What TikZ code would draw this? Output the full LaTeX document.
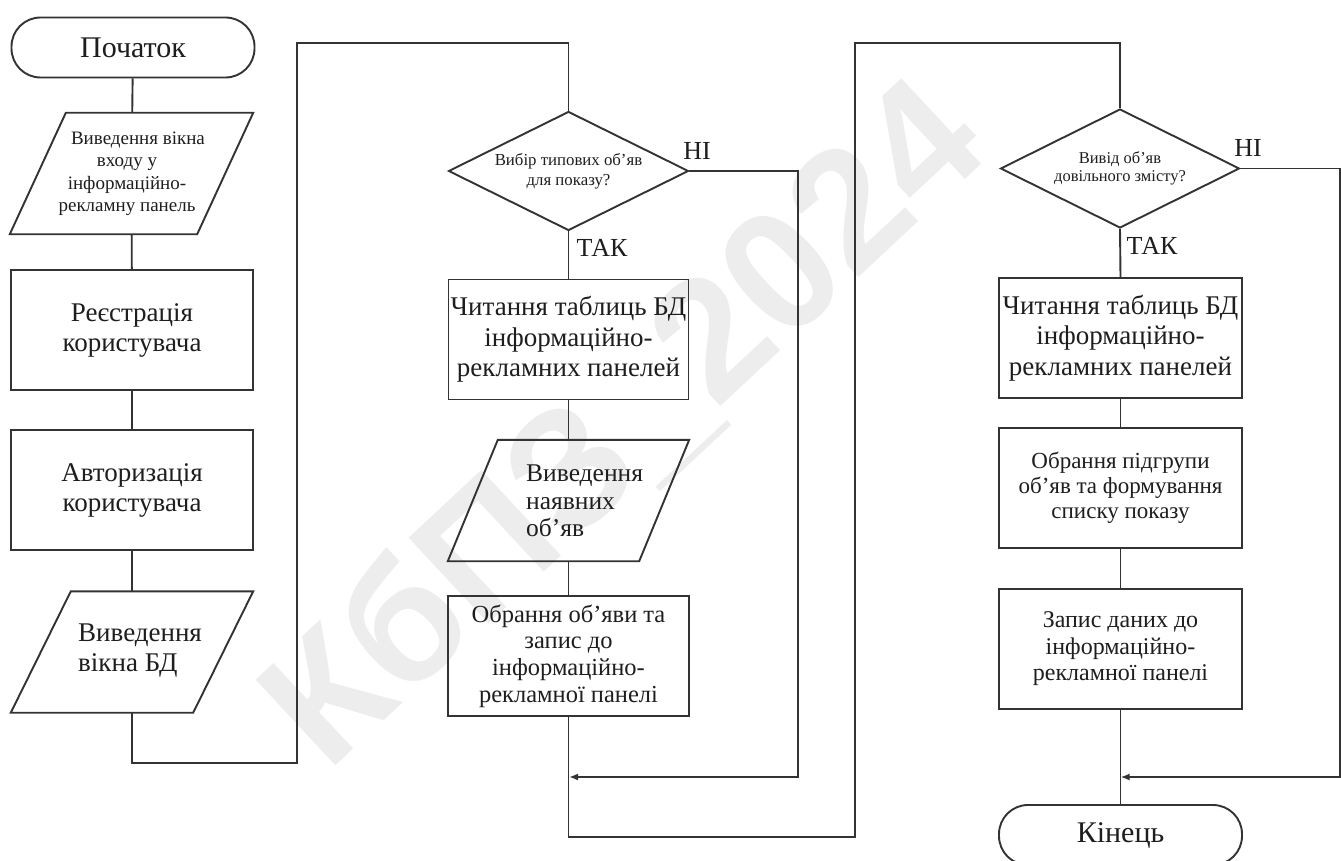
\documentclass[tikz,border=0pt]{standalone}
\usepackage{fontspec}
\setmainfont{Liberation Serif}
\newfontfamily\wmfont{Liberation Sans}
\usetikzlibrary{shapes.geometric,arrows.meta}
\definecolor{lncol}{HTML}{333333}
\definecolor{txcol}{HTML}{1E1E1E}
\definecolor{wmcol}{HTML}{EDEDED}
\newcommand\fs[2]{\fontsize{#1}{#2}\selectfont}
\newcommand\parashape[2]{\draw[conn] ([xshift=#2]#1.north west) -- (#1.north east) -- ([xshift=-#2]#1.south east) -- (#1.south west) -- cycle;}
\begin{document}
\begin{tikzpicture}[x=1pt,y=-1pt,
 conn/.style={draw=lncol, line width=1.9pt},
 proc/.style={draw=lncol, line width=1.9pt, rectangle, minimum width=242pt, minimum height=120pt, inner sep=0pt, align=center, text=txcol},
 term/.style={draw=lncol, line width=1.9pt, rectangle, rounded corners=29pt, minimum width=243pt, minimum height=60pt, inner sep=0pt, text=txcol, font=\fs{30}{34}},
 io/.style={rectangle, minimum width=242pt, minimum height=121pt, inner sep=0pt, align=center, text=txcol},
 dec/.style={draw=lncol, line width=1.9pt, diamond, aspect=2, minimum width=240pt, minimum height=119pt, inner sep=0pt, align=center, text=txcol},
 lbl/.style={text=txcol, inner sep=0pt, font=\fs{26}{28}},
 arr/.style={conn, -{Latex[length=9pt,width=7pt]}}
]
\useasboundingbox (0,0) rectangle (1341,861);
\fill[white] (0,0) rectangle (1341,861);
% watermark
\node[rotate=43, text=wmcol, font=\wmfont\bfseries\fs{170}{170}, inner sep=0pt] (wm) at (625,425) {КбПЗ\_2024};

% column 1
\node[term] (start) at (133,47.5) {Початок};
\node[io, minimum width=243pt] (p1) at (131.5,173.5) {};
\parashape{p1}{56pt}
\node[align=center, inner sep=0pt, text=txcol, font=\fs{19}{22.5}] (p1t) at (127,174) {\hspace*{22pt}Виведення вікна\\входу у\\інформаційно-\\рекламну панель};
\node[proc, font=\fs{27}{30}] (reg) at (132,330) {Реєстрація\\користувача};
\node[proc, font=\fs{27}{30}] (auth) at (132,490) {Авторизація\\користувача};
\node[io] (p2) at (132,652) {};
\parashape{p2}{60pt}
\node[anchor=west, align=left, inner sep=0pt, text=txcol, font=\fs{27}{30}] (p2t) at (78,651) {Виведення\\вікна БД};

% column 2
\node[dec, font=\fs{16.8}{20}] (d1) at (568.5,171) {Вибір типових об'яв\\для показу?};
\node[proc, minimum width=240pt, font=\fs{27}{30.5}] (read1) at (568.5,339.5) {Читання таблиць БД\\інформаційно-\\рекламних панелей};
\node[io, minimum width=241pt] (p3) at (568.5,500.5) {};
\parashape{p3}{50pt}
\node[anchor=west, align=left, inner sep=0pt, text=txcol, font=\fs{25.5}{27.5}] (p3t) at (526,501) {Виведення\\наявних\\об’яв};
\node[proc, minimum width=241pt, font=\fs{24.5}{26.7}] (ch1) at (568.5,656) {Обрання об’яви та\\запис до\\інформаційно-\\рекламної панелі};

% column 3
\node[dec, minimum width=239pt, font=\fs{16.5}{18.5}] (d2) at (1120,168.5) {Вивід об'яв\\довільного змісту?};
\node[proc, minimum width=243pt, font=\fs{27}{30.5}] (read2) at (1120.5,338) {Читання таблиць БД\\інформаційно-\\рекламних панелей};
\node[proc, minimum width=243pt, font=\fs{23}{25}] (sub) at (1120.5,488) {Обрання підгрупи\\об’яв та формування\\списку показу};
\node[proc, minimum width=243pt, font=\fs{24}{26.5}] (wr) at (1120.5,649) {Запис даних до\\інформаційно-\\рекламної панелі};
\node[term] (fin) at (1120.5,835) {Кінець};

% labels
\node[lbl] (no1) at (697,151) {НІ};
\node[lbl] (yes1) at (602,248) {ТАК};
\node[lbl] (no2) at (1248,148) {НІ};
\node[lbl] (yes2) at (1152,246) {ТАК};

% junction coordinates
\coordinate (m1) at (569,777);
\coordinate (m2) at (1120.5,777);

% connectors column 1
\draw[conn] (start) -- (p1);
\draw[conn] (p1) -- (reg);
\draw[conn] (reg) -- (auth);
\draw[conn] (auth) -- (p2);
\draw[conn] (p2.south) -- (132,763) -- (297,763) -- (297,43) -- (568.5,43) -- (d1.north);

% column 2
\draw[conn] (d1.south) -- (read1.north);
\draw[conn] (read1) -- (p3);
\draw[conn] (p3) -- (ch1);
\draw[arr] (d1.east) -- (798,171) -- (798,777) -- (m1);
\draw[conn] (ch1.south) -- (568.5,837) -- (855,837) -- (855,43) -- (1120,43) -- (d2.north);

% column 3
\draw[conn] (d2.south) -- (read2.north);
\draw[conn] (read2) -- (sub);
\draw[conn] (sub) -- (wr);
\draw[conn] (wr) -- (fin);
\draw[arr] (d2.east) -- (1340,168.5) -- (1340,777) -- (m2);
\end{tikzpicture}
\end{document}
